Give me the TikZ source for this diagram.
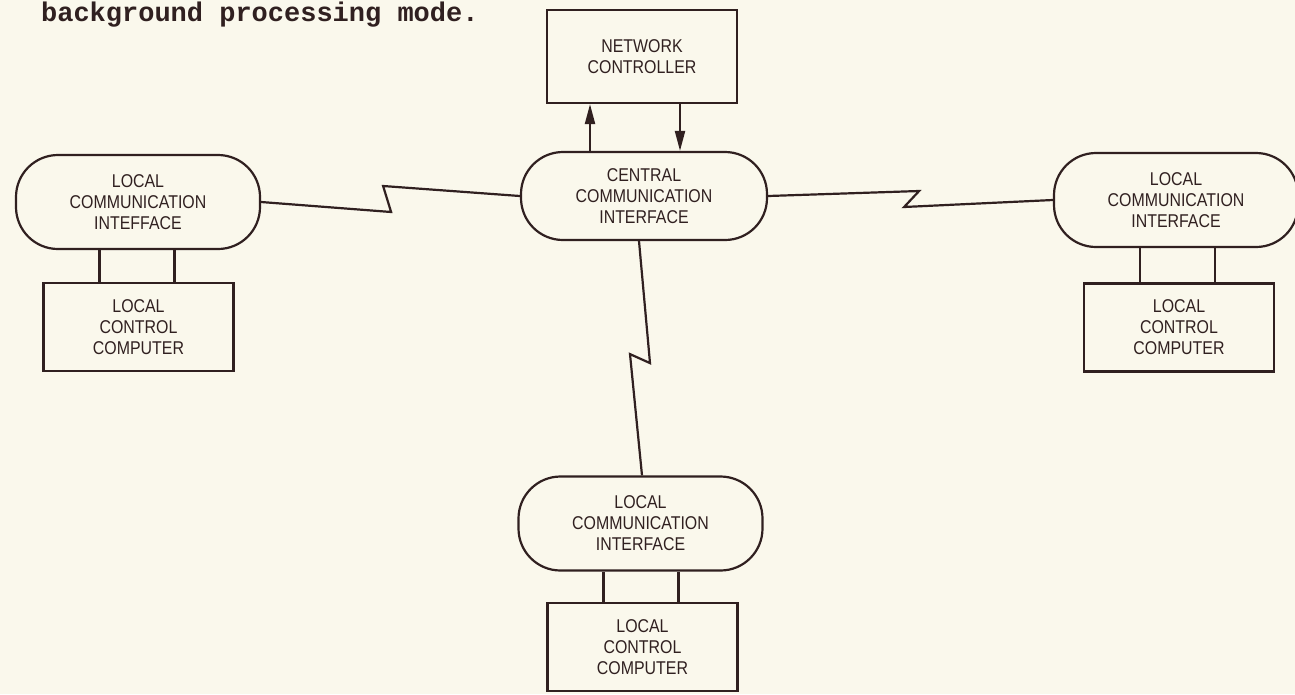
\documentclass[tikz,border=0pt]{standalone}
\usepackage{fontspec}
\setmainfont[FakeStretch=0.86]{Liberation Sans}
\newfontfamily\bodymono{Liberation Mono}
\usetikzlibrary{positioning, arrows.meta}
\definecolor{ink}{RGB}{48,32,32}
\definecolor{paper}{RGB}{250,248,236}

\begin{document}
\begin{tikzpicture}[x=1pt, y=-1pt, line width=2.2pt, color=ink,
    lettering/.style={align=center, font=\fontsize{18.5}{21}\selectfont},
    pill/.style={lettering, draw, rounded corners=42pt, minimum width=244pt, minimum height=94pt, inner sep=0pt},
    unit/.style={lettering, draw, minimum width=190pt, minimum height=88pt, inner sep=0pt},
    arr/.style={-{Triangle[length=20pt,width=10pt]}}]
    % Page
    \fill[paper] (0,0) rectangle (1295,694);
    \useasboundingbox (0,0) rectangle (1295,694);
    \node[font=\bodymono\bfseries\fontsize{27}{30}\selectfont, anchor=base west, inner sep=0pt] (caption) at (40,21) {background processing mode.};

    % Central part
    \node[unit, minimum height=93pt] (nc) at (642,56.5) {NETWORK\\CONTROLLER};
    \node[pill, minimum width=246pt, minimum height=88pt] (cci) at (644,196) {CENTRAL\\COMMUNICATION\\INTERFACE};
    \draw[arr] ([xshift=-54pt]cci.north) -- ([xshift=-54pt]cci.north |- nc.south);
    \draw[arr] ([xshift=36pt]cci.north |- nc.south) -- ([xshift=36pt]cci.north);

    % Local units
    \foreach \n/\px/\py/\bx/\by/\txt in {L/138/202/138.5/327/INTEFFACE, R/1176/200/1179/327.5/INTERFACE, B/640.5/523.5/642.5/647/INTERFACE} {
      \node[pill] (lci\n) at (\px,\py) {LOCAL\\COMMUNICATION\\\txt};
      \node[unit] (lcc\n) at (\bx,\by) {LOCAL\\CONTROL\\COMPUTER};
      \draw ([xshift=-39pt]lcc\n.north) -- ([xshift=-39pt]lcc\n.north |- lci\n.south);
      \draw ([xshift=36pt]lcc\n.north) -- ([xshift=36pt]lcc\n.north |- lci\n.south);
    }

    % Data links
    \draw (lciL.east) -- ++(130,10) -- ++(-8,-26) -- (cci.west);
    \draw (cci.east) -- ++(151,-5) -- ++(-15,16) -- (lciR.west);
    \draw ([xshift=-5pt]cci.south) -- ++(11,122) -- ++(-20,-9) -- ([xshift=1.5pt]lciB.north);
\end{tikzpicture}
\end{document}
